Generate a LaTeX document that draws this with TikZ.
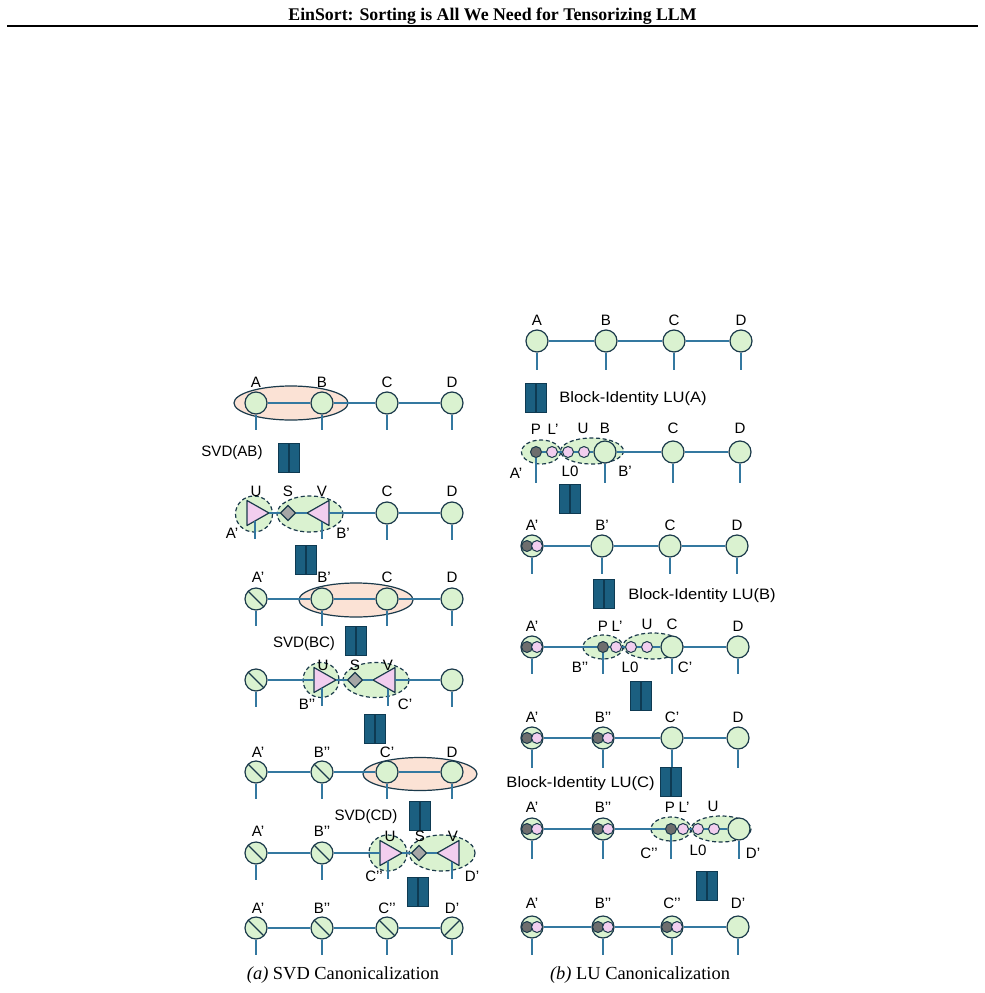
\documentclass[tikz,border=0pt]{standalone}
\usepackage{fontspec}
\usepackage{graphicx}
\setmainfont{Liberation Serif}
\newfontfamily\lsans{Liberation Sans}
\usetikzlibrary{shapes.geometric}
\definecolor{gfill}{HTML}{DAF2D0}
\definecolor{bordc}{HTML}{1B3A4B}
\definecolor{linec}{HTML}{3478A0}
\definecolor{barc}{HTML}{1B5F80}
\definecolor{bard}{HTML}{0E3A52}
\definecolor{peach}{HTML}{FBE2D5}
\definecolor{pinkc}{HTML}{F2CEEF}
\definecolor{diamc}{HTML}{A6A6A6}
\definecolor{darkc}{HTML}{6E6E6E}
\tikzset{
  tn/.style={circle, draw=bordc, fill=gfill, line width=0.9pt, minimum size=16.5pt, inner sep=0pt},
  sl/.style={tn, path picture={\draw[bordc, line width=0.9pt] (path picture bounding box.north west) -- (path picture bounding box.south east);}},
  bsl/.style={tn, path picture={\draw[bordc, line width=0.9pt] (path picture bounding box.south west) -- (path picture bounding box.north east);}},
  sm/.style={circle, draw=bordc, line width=0.75pt, minimum size=8.25pt, inner sep=0pt},
  dk/.style={sm, fill=darkc},
  pk/.style={sm, fill=pinkc},
  ln/.style={draw=linec, line width=1.1pt},
  grp/.style={draw=bordc, fill=peach, line width=0.9pt},
  dgrp/.style={draw=bordc, fill=gfill, line width=0.9pt, dash pattern=on 3pt off 2pt},
  tri/.style={draw=bordc, fill=pinkc, line width=0.9pt, line join=round},
  dia/.style={diamond, draw=bordc, fill=diamc, line width=0.9pt, minimum size=11.5pt, inner sep=0pt},
  barr/.style={rectangle, draw=bard, fill=barc, line width=0.6pt, minimum width=7pt, minimum height=21.5pt, inner sep=0pt},
  lab/.style={font=\lsans\fontsize{11.3}{13}\selectfont, inner sep=0pt, anchor=base},
  blk/.style={font=\lsans\fontsize{11.3}{13}\selectfont, inner sep=0pt},
}
% helpers
\newcommand\eqbars[3]{\node[barr] (#1l) at (#2-5.5,#3) {}; \node[barr] (#1r) at (#2+5.5,#3) {};}
\newcommand\lbl[4]{\node[lab] (#1) at (#2,#3+5.5) {#4};}
\newcommand\legto[2]{\draw[ln] (#1) -- ++(0,#2);}
\newcommand\utri[3]{%
  \coordinate (#1b) at (#2-8,#3);
  \coordinate (#1a) at (#2+14,#3);
  \coordinate (#1f) at (#2,#3+8);
  \draw[tri] (#2-8,#3-12.5) -- (#2+14,#3) -- (#2-8,#3+12.5) -- cycle;}
\newcommand\vtri[3]{%
  \coordinate (#1b) at (#2+7,#3);
  \coordinate (#1a) at (#2-15,#3);
  \coordinate (#1f) at (#2,#3+8.5);
  \draw[tri] (#2+7,#3-12.5) -- (#2-15,#3) -- (#2+7,#3+12.5) -- cycle;}
\newcommand\comp[3]{%
  \node[tn] (#1) at (#2,#3) {};
  \node[dk] (#1p) at (#2-5,#3) {};
  \node[pk] (#1l) at (#2+5,#3) {};}
\begin{document}
\begin{tikzpicture}[x=0.75pt,y=-0.75pt]
\useasboundingbox (0,0) rectangle (985,993);
\fill[white] (0,0) rectangle (985,993);
% header
\node[font=\bfseries\fontsize{13.35}{15}\selectfont, anchor=base, inner sep=0pt] (title) at (492.5,20) {EinSort: Sorting is All We Need for Tensorizing LLM};
\coordinate (rl) at (7,26); \coordinate (rr) at (978,26);
\draw[line width=1.6pt] (rl) -- (rr);

% ================= (a) SVD =================
% row 1
\draw[grp] (291,403) ellipse [x radius=57, y radius=17];
\node[tn] (a1A) at (256,403) {}; \node[tn] (a1B) at (322,403) {};
\node[tn] (a1C) at (387,403) {}; \node[tn] (a1D) at (452,403) {};
\draw[ln] (a1A) -- (a1B) -- (a1C) -- (a1D);
\foreach \n in {a1A,a1B,a1C,a1D} {\legto{\n.south}{15}}
\lbl{la1A}{256}{382}{A}\lbl{la1B}{322}{382}{B}\lbl{la1C}{387}{382}{C}\lbl{la1D}{452}{382}{D}
\eqbars{ab1}{289}{458}
\lbl{svdab}{232}{451}{SVD(AB)}
% row 2
\draw[dgrp] (254,514) ellipse [x radius=18.5, y radius=18];
\draw[dgrp] (310,514) ellipse [x radius=33, y radius=18];
\utri{a2U}{255}{513}
\node[dia] (a2S) at (288,513) {};
\vtri{a2V}{322}{513}
\node[tn] (a2C) at (387,513) {}; \node[tn] (a2D) at (452,513) {};
\draw[ln] (a2Ua) -- (a2S) -- (a2Va);
\draw[ln] (a2Vb) -- (a2C) -- (a2D);
\legto{a2Uf}{18}\legto{a2Vf}{17.5}\legto{a2C.south}{15}\legto{a2D.south}{15}
\lbl{la2U}{256}{491}{U}\lbl{la2S}{288}{491}{S}\lbl{la2V}{322}{491}{V}
\lbl{la2C}{387}{491}{C}\lbl{la2D}{452}{491}{D}
\lbl{la2A}{232}{533}{A’}\lbl{la2B}{343}{533}{B’}
\eqbars{ab2}{306}{560}
% row 3
\draw[grp] (356,600) ellipse [x radius=57, y radius=17];
\node[sl] (a3A) at (256,599) {}; \node[tn] (a3B) at (322,599) {};
\node[tn] (a3C) at (387,599) {}; \node[tn] (a3D) at (452,599) {};
\draw[ln] (a3A) -- (a3B) -- (a3C) -- (a3D);
\foreach \n in {a3A,a3B,a3C,a3D} {\legto{\n.south}{15}}
\lbl{la3A}{258}{577}{A’}\lbl{la3B}{324}{577}{B’}\lbl{la3C}{387}{577}{C}\lbl{la3D}{452}{577}{D}
\eqbars{ab3}{356}{641}
\lbl{svdbc}{304}{642}{SVD(BC)}
% row 4
\draw[dgrp] (321,680) ellipse [x radius=18, y radius=17.5];
\draw[dgrp] (376,680) ellipse [x radius=33, y radius=17.5];
\node[sl] (a4A) at (256,680) {};
\utri{a4U}{322}{680}
\node[dia] (a4S) at (355,680) {};
\vtri{a4V}{388}{680}
\node[tn] (a4D) at (452,680) {};
\draw[ln] (a4A) -- (a4Ub);
\draw[ln] (a4Ua) -- (a4S) -- (a4Va);
\draw[ln] (a4Vb) -- (a4D);
\legto{a4A.south}{15}\legto{a4Uf}{18}\legto{a4Vf}{17.5}\legto{a4D.south}{15}
\lbl{la4U}{323}{665}{U}\lbl{la4S}{355}{665}{S}\lbl{la4V}{388}{665}{V}
\lbl{la4B}{307}{704}{B’’}\lbl{la4C}{405}{704}{C’}
\eqbars{ab4}{375}{729}
% row 5
\draw[grp] (420,774) ellipse [x radius=57, y radius=16.5];
\node[sl] (a5A) at (256,772) {}; \node[sl] (a5B) at (322,772) {};
\node[tn] (a5C) at (387,772) {}; \node[tn] (a5D) at (452,772) {};
\draw[ln] (a5A) -- (a5B) -- (a5C) -- (a5D);
\foreach \n in {a5A,a5B,a5C,a5D} {\legto{\n.south}{15}}
\lbl{la5A}{258}{752}{A’}\lbl{la5B}{322}{752}{B’’}\lbl{la5C}{387}{752}{C’}\lbl{la5D}{452}{752}{D}
\eqbars{ab5}{420}{816}
\lbl{svdcd}{366}{815}{SVD(CD)}
% row 6
\draw[dgrp] (388,853) ellipse [x radius=19, y radius=18];
\draw[dgrp] (442,853) ellipse [x radius=33, y radius=18];
\node[sl] (a6A) at (256,853) {}; \node[sl] (a6B) at (322,853) {};
\utri{a6U}{388}{853}
\node[dia] (a6S) at (419,853) {};
\vtri{a6V}{452}{853}
\draw[ln] (a6A) -- (a6B) -- (a6Ub);
\draw[ln] (a6Ua) -- (a6S) -- (a6Va);
\legto{a6A.south}{15}\legto{a6B.south}{15}\legto{a6Uf}{18}\legto{a6Vf}{17.5}
\lbl{la6A}{258}{831}{A’}\lbl{la6B}{322}{831}{B’’}
\lbl{la6U}{390}{836}{U}\lbl{la6S}{420}{836}{S}\lbl{la6V}{453}{836}{V}
\lbl{la6C}{374}{876}{C’’}\lbl{la6D}{472}{876}{D’}
\eqbars{ab6}{418}{892}
% row 7
\node[sl] (a7A) at (256,928) {}; \node[sl] (a7B) at (322,928) {};
\node[sl] (a7C) at (387,928) {}; \node[bsl] (a7D) at (452,928) {};
\draw[ln] (a7A) -- (a7B) -- (a7C) -- (a7D);
\foreach \n in {a7A,a7B,a7C,a7D} {\legto{\n.south}{15}}
\lbl{la7A}{258}{908}{A’}\lbl{la7B}{322}{908}{B’’}\lbl{la7C}{387}{908}{C’’}\lbl{la7D}{452}{908}{D’}
\node[font=\fontsize{13.8}{16}\selectfont, anchor=base, inner sep=0pt] (capa) at (343,979) {\textit{(a)} SVD Canonicalization};

% ================= (b) LU =================
% row 1
\node[tn] (b1A) at (537,341) {}; \node[tn] (b1B) at (606,341) {};
\node[tn] (b1C) at (674,341) {}; \node[tn] (b1D) at (741,341) {};
\draw[ln] (b1A) -- (b1B) -- (b1C) -- (b1D);
\foreach \n in {b1A,b1B,b1C,b1D} {\legto{\n.south}{17}}
\lbl{lb1A}{537}{320}{A}\lbl{lb1B}{606}{320}{B}\lbl{lb1C}{674}{320}{C}\lbl{lb1D}{741}{320}{D}
\eqbars{bb1}{536}{398}
\node[blk, anchor=base west] (blu1) at (559,402.5) {\scalebox{1.1}[1]{Block-Identity LU(A)}};
% row 2
\draw[dgrp] (541,452) ellipse [x radius=19.5, y radius=12];
\draw[dgrp] (592,451) ellipse [x radius=31.5, y radius=13];
\node[dk] (b2P) at (536,452) {}; \node[pk] (b2L) at (552,452) {};
\node[pk] (b2u1) at (568,452) {}; \node[pk] (b2u2) at (584,452) {};
\node[tn] (b2B) at (605,452) {}; \node[tn] (b2C) at (673,452) {}; \node[tn] (b2D) at (740,452) {};
\draw[ln] (b2P) -- (b2L) -- (b2u1) -- (b2u2) -- (b2B) -- (b2C) -- (b2D);
\legto{b2P.south}{24.5}\legto{b2B.south}{19}\legto{b2C.south}{19}\legto{b2D.south}{19}
\lbl{lb2P}{536}{429}{P}\lbl{lb2L}{553}{429}{L’}\lbl{lb2U}{583}{428}{U}\lbl{lb2B}{605}{428}{B}
\lbl{lb2C}{673}{428}{C}\lbl{lb2D}{740}{428}{D}
\lbl{lb2A}{516}{473}{A’}\lbl{lb2L0}{570}{471}{L0}\lbl{lb2Bp}{625}{471}{B’}
\eqbars{bb2}{570}{499}
% row 3
\comp{b3A}{532}{546}
\node[tn] (b3B) at (602,546) {}; \node[tn] (b3C) at (670,546) {}; \node[tn] (b3D) at (737,546) {};
\draw[ln] (b3A) -- (b3B) -- (b3C) -- (b3D);
\foreach \n in {b3A,b3B,b3C,b3D} {\legto{\n.south}{16}}
\lbl{lb3A}{532}{525}{A’}\lbl{lb3B}{602}{525}{B’}\lbl{lb3C}{670}{525}{C}\lbl{lb3D}{737}{525}{D}
\eqbars{bb3}{604}{594}
\node[blk, anchor=base west] (blu2) at (628,599.5) {\scalebox{1.1}[1]{Block-Identity LU(B)}};
% row 4
\draw[dgrp] (603,647) ellipse [x radius=20, y radius=12];
\draw[dgrp] (653,646) ellipse [x radius=30, y radius=13];
\comp{b4A}{532}{647}
\node[dk] (b4P) at (603,647) {}; \node[pk] (b4L) at (616,647) {};
\node[pk] (b4u1) at (631,647) {}; \node[pk] (b4u2) at (647,647) {};
\node[tn] (b4C) at (672,647) {}; \node[tn] (b4D) at (738,647) {};
\draw[ln] (b4A) -- (b4P) -- (b4L) -- (b4u1) -- (b4u2) -- (b4C) -- (b4D);
\legto{b4A.south}{15}\legto{b4P.south}{20.5}\legto{b4C.south}{15}\legto{b4D.south}{15}
\lbl{lb4A}{532}{626}{A’}\lbl{lb4P}{603}{626}{P}\lbl{lb4L}{617}{626}{L’}\lbl{lb4U}{647}{624}{U}
\lbl{lb4C}{672}{624}{C}\lbl{lb4D}{738}{626}{D}
\lbl{lb4B}{580}{667}{B’’}\lbl{lb4L0}{630}{667}{L0}\lbl{lb4Cp}{685}{667}{C’}
\eqbars{bb4}{641}{696}
% row 5
\comp{b5A}{532}{738}\comp{b5B}{603}{738}
\node[tn] (b5C) at (672,738) {}; \node[tn] (b5D) at (738,738) {};
\draw[ln] (b5A) -- (b5B) -- (b5C) -- (b5D);
\foreach \n in {b5A,b5B,b5C,b5D} {\legto{\n.south}{18}}
\lbl{lb5A}{532}{717}{A’}\lbl{lb5B}{603}{717}{B’’}\lbl{lb5C}{672}{717}{C’}\lbl{lb5D}{738}{717}{D}
\eqbars{bb5}{671}{782}
\node[blk, anchor=base east] (blu3) at (655,787.5) {\scalebox{1.1}[1]{Block-Identity LU(C)}};
% row 6
\draw[dgrp] (671,829) ellipse [x radius=20, y radius=12];
\draw[dgrp] (721,829) ellipse [x radius=30, y radius=13];
\comp{b6A}{532}{829}\comp{b6B}{603}{829}
\node[dk] (b6P) at (671,829) {}; \node[pk] (b6L) at (683,829) {};
\node[pk] (b6u1) at (698,829) {}; \node[pk] (b6u2) at (714,829) {};
\node[tn] (b6D) at (739,829) {};
\draw[ln] (b6A) -- (b6B) -- (b6P) -- (b6L) -- (b6u1) -- (b6u2) -- (b6D);
\legto{b6A.south}{18}\legto{b6B.south}{18}\legto{b6P.south}{23.5}\legto{b6D.south}{18}
\lbl{lb6A}{532}{807}{A’}\lbl{lb6B}{603}{807}{B’’}\lbl{lb6P}{670}{807}{P}\lbl{lb6L}{684}{807}{L’}
\lbl{lb6U}{713}{806}{U}
\lbl{lb6C}{649}{853}{C’’}\lbl{lb6L0}{698}{850}{L0}\lbl{lb6D}{753}{853}{D’}
\eqbars{bb6}{707}{886}
% row 7
\comp{b7A}{532}{927}\comp{b7B}{603}{927}\comp{b7C}{672}{927}
\node[tn] (b7D) at (738,927) {};
\draw[ln] (b7A) -- (b7B) -- (b7C) -- (b7D);
\foreach \n in {b7A,b7B,b7C,b7D} {\legto{\n.south}{16}}
\lbl{lb7A}{532}{903}{A’}\lbl{lb7B}{603}{903}{B’’}\lbl{lb7C}{672}{903}{C’’}\lbl{lb7D}{738}{903}{D’}
\node[font=\fontsize{13.8}{16}\selectfont, anchor=base, inner sep=0pt] (capb) at (640,979) {\textit{(b)} LU Canonicalization};
\end{tikzpicture}
\end{document}
